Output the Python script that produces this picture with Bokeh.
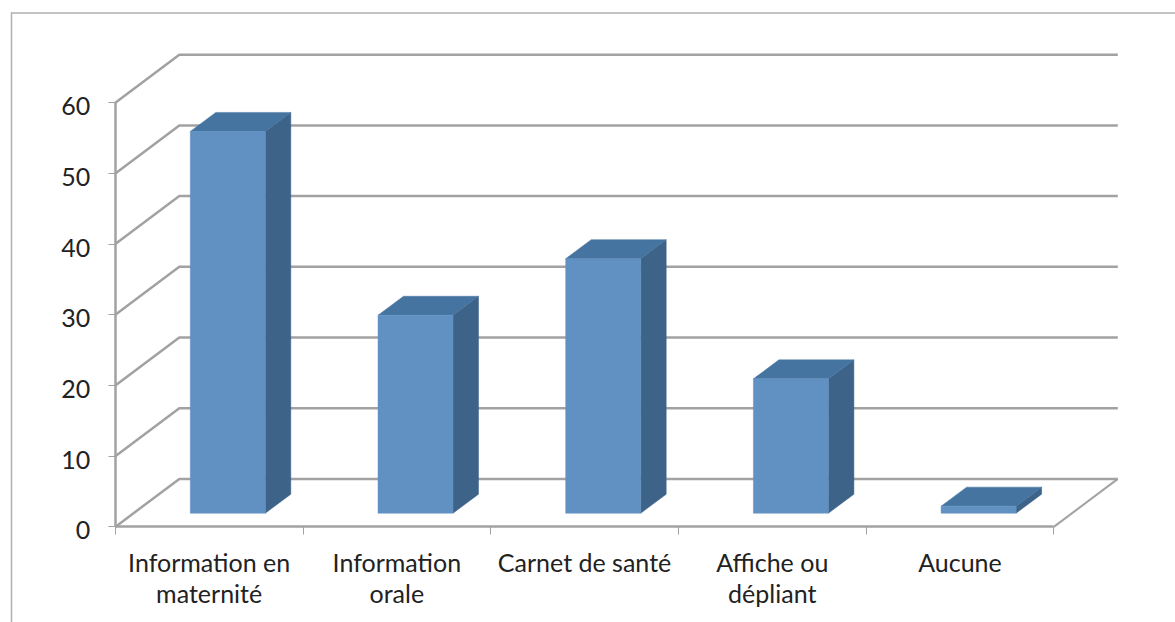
from bokeh.plotting import figure
from bokeh.models import Range1d, FixedTicker, LinearAxis
from bokeh.embed import file_html
from bokeh.resources import INLINE

categories = ["Information en\nmaternité", "Information\norale", "Carnet de santé", "Affiche ou\ndépliant", "Aucune"]
values = [54, 28, 36, 19, 1]
y_ticks = [0, 10, 20, 30, 40, 50, 60]

# layout constants
PX_X, PX_Y = 187.7, 7.07      # pixels per category / per unit
X0, Y0 = 114.8, 526.4         # image pixel of the data origin
WALL_DX, WALL_DY = 64.0 / PX_X, 48.0 / PX_Y
BAR_W = 75.0 / PX_X
BAR_DX, BAR_DY = 25.5 / PX_X, 19.0 / PX_Y
BAR_LIFT = 13.7 / PX_Y        # how far the front face sits behind the axis
BAR_SHIFT = 18.65 / PX_X
LABEL_DROP = 3.5 / PX_Y       # value labels sit a little under their ticks

FRONT, TOP, SIDE = "#6190C2", "#44749F", "#3E6389"
GRID = "#A2A2A2"
TEXT = "#222222"
FONT = "Lato"

x_start, x_end = (0 - X0) / PX_X, (1175 - X0) / PX_X
y_start, y_end = (Y0 - 622) / PX_Y, (Y0 - 0) / PX_Y

p = figure(width=1175, height=622, output_backend="svg", toolbar_location=None,
           x_range=Range1d(x_start, x_end),
           y_range=Range1d(y_start, y_end),
           min_border=0, outline_line_color=None)
p.grid.visible = False

# outer chart border (runs off the picture right and bottom)
border_x = (11.0 - X0) / PX_X
border_y = (Y0 - 12.5) / PX_Y
p.line([border_x, border_x, x_end], [y_start, border_y, border_y],
       line_color="#B0B0B0", line_width=1.5, line_join="miter")

# walls
n = len(categories)
xs = [[0, WALL_DX, n + WALL_DX] for _ in y_ticks]
ys = [[v, v + WALL_DY, v + WALL_DY] for v in y_ticks]
p.multi_line(xs, ys, line_color=GRID, line_width=2.5)
p.line([n, n + WALL_DX], [0, WALL_DY], line_color=GRID, line_width=2)

# bars
fx, fy, sx, sy, tx, ty = [], [], [], [], [], []
for i, v in enumerate(values):
    l = i + 0.5 - BAR_W / 2 + BAR_SHIFT
    r = l + BAR_W
    b = BAR_LIFT
    t = b + v
    fx.append([l, r, r, l]); fy.append([b, b, t, t])
    sx.append([r, r + BAR_DX, r + BAR_DX, r]); sy.append([b, b + BAR_DY, t + BAR_DY, t])
    tx.append([l, r, r + BAR_DX, l + BAR_DX]); ty.append([t, t, t + BAR_DY, t + BAR_DY])
p.patches(sx, sy, fill_color=SIDE, line_color=SIDE, line_width=0.5)
p.patches(tx, ty, fill_color=TOP, line_color=TOP, line_width=0.5)
p.patches(fx, fy, fill_color=FRONT, line_color=FRONT, line_width=0.5)

# axes
xa = p.xaxis[0]
xa.fixed_location = 0
xa.bounds = (0, n)
xa.ticker = FixedTicker(ticks=[i + 0.5 for i in range(n)], minor_ticks=list(range(n + 1)))
xa.major_label_overrides = {i + 0.5: c for i, c in enumerate(categories)}
xa.major_tick_line_color = None
xa.major_tick_out = 0
xa.major_tick_in = 0
xa.minor_tick_line_color = GRID
xa.minor_tick_out = 8
xa.minor_tick_in = 0
xa.axis_line_color = GRID
xa.axis_line_width = 2.5
xa.major_label_standoff = 12
xa.major_label_text_font = FONT
xa.major_label_text_font_size = "25px"
xa.major_label_text_color = TEXT
xa.major_label_text_line_height = 1.05

ya = p.yaxis[0]
ya.fixed_location = 0
ya.bounds = (0, 60)
ya.ticker = FixedTicker(ticks=y_ticks)
ya.major_label_overrides = {v: "" for v in y_ticks}
ya.minor_tick_line_color = None
ya.major_tick_line_color = GRID
ya.major_tick_out = 7
ya.major_tick_in = 0
ya.axis_line_color = GRID
ya.axis_line_width = 2.5

# value labels: their own axis, so that they can sit a little under the ticks
yl = LinearAxis(fixed_location=0, axis_line_color=None, major_tick_line_color=None,
                minor_tick_line_color=None, major_tick_in=0, major_tick_out=7,
                major_label_standoff=18, major_label_text_font=FONT,
                major_label_text_font_size="25px", major_label_text_color=TEXT,
                ticker=FixedTicker(ticks=[v - LABEL_DROP for v in y_ticks]),
                major_label_overrides={v - LABEL_DROP: str(v) for v in y_ticks})
p.add_layout(yl, "left")

open("out.html", "w").write(file_html(p, INLINE))
